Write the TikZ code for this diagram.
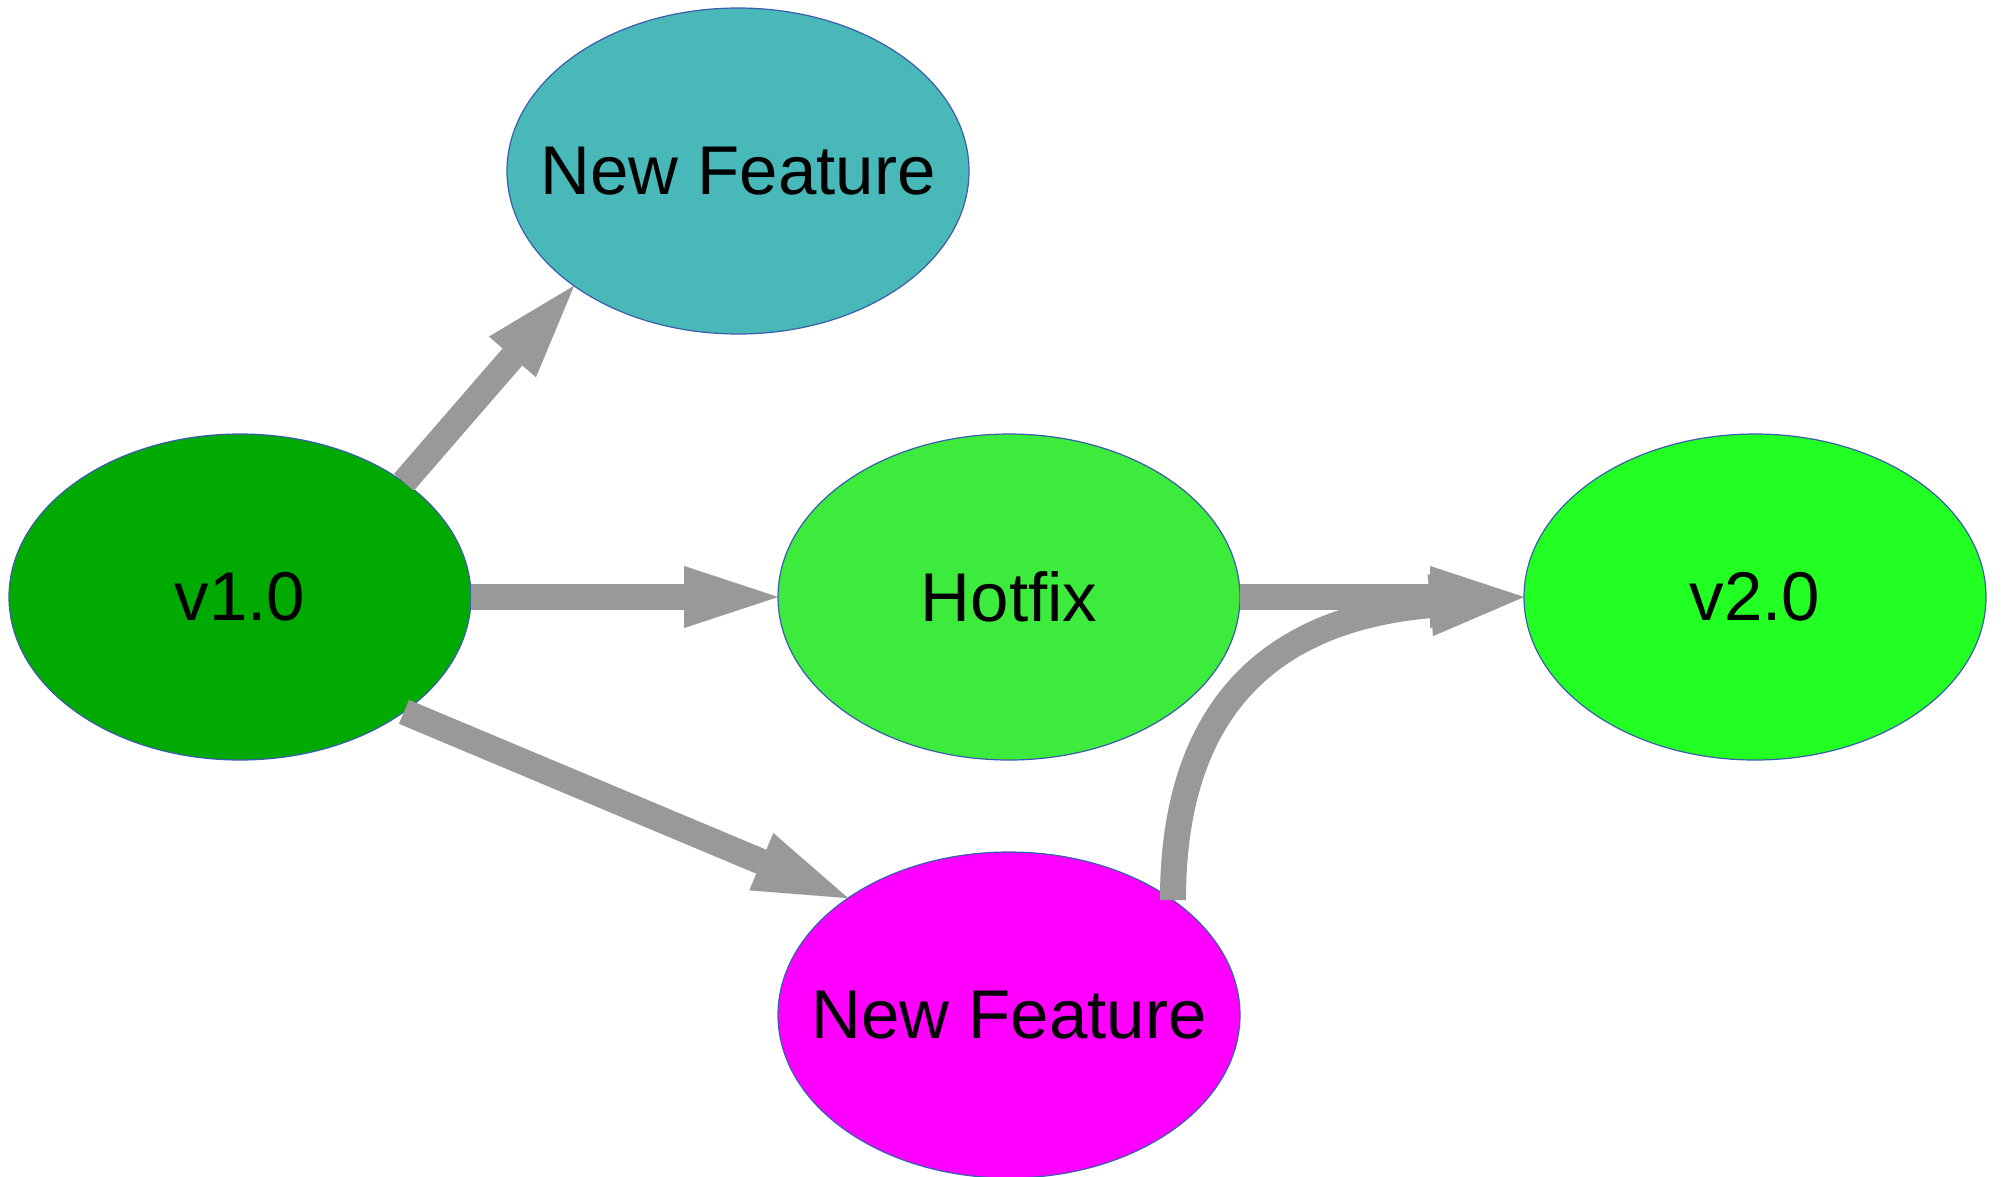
\documentclass[tikz,border=0pt]{standalone}
\usepackage{fontspec}
\setmainfont{Liberation Sans}
\usetikzlibrary{shapes.geometric,arrows.meta}
\definecolor{bordercol}{HTML}{3A5DAE}
\definecolor{edgegray}{HTML}{999999}
\definecolor{cv1}{HTML}{00AA00}
\definecolor{cnft}{HTML}{48B8B9}
\definecolor{chf}{HTML}{3DEB3D}
\definecolor{cv2}{HTML}{22FF22}
\definecolor{cnfb}{HTML}{FF00FF}
\newcommand{\ntext}[1]{\makebox[0pt][c]{#1}}
\begin{document}
\begin{tikzpicture}[x=1pt,y=-1pt,
  vnode/.style={ellipse, minimum width=462pt, minimum height=326pt, inner sep=0pt, outer sep=0pt,
    draw=bordercol, line width=1.2pt, text=black, font=\fontsize{69}{80}\selectfont},
  conn/.style={draw=edgegray, line width=26pt,
    -{Triangle[length=94pt,width=62pt,line width=0.01pt]}}]
\useasboundingbox (0,0) rectangle (2001,1176);
\node[vnode, fill=cv1]  (v1)  at (240,597)  {\ntext{v1.0}};
\node[vnode, fill=cnft] (nft) at (738,171)  {\ntext{New Feature}};
\node[vnode, fill=chf]  (hf)  at (1009,597) {\ntext{Hotfix}};
\node[vnode, fill=cv2]  (v2)  at (1755,597) {\ntext{v2.0}};
\node[vnode, fill=cnfb] (nfb) at (1009,1015) {\ntext{New Feature}};
\draw[conn] (v1.35.5) -- (nft.215.3);
\draw[conn] (v1.east) -- (hf.west);
\draw[conn] (v1.-35) -- (nfb.144.7);
\draw[conn] (hf.east) -- (v2.west);
\draw[conn] (nfb.35) .. controls +(0,-180) and +(-265,23) .. (v2.west);
\end{tikzpicture}
\end{document}
